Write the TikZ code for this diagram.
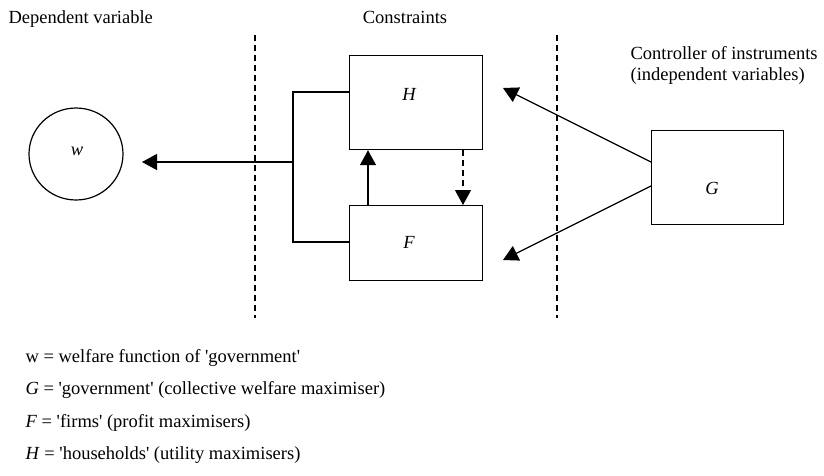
\documentclass[tikz,border=0pt]{standalone}
\usepackage{fontspec}
\setmainfont{Liberation Serif}[Ligatures=TeXOff]
\usetikzlibrary{arrows.meta,shapes.geometric}
\begin{document}
\begin{tikzpicture}[x=1pt,y=-1pt,
  line width=1.2pt,
  every node/.style={font=\fontsize{18.5}{22}\selectfont},
  box/.style={draw, minimum width=133pt, anchor=north west, inner sep=0pt},
  tip/.style={-{Triangle[length=15pt,width=16pt]}},
  divider/.style={dashed, dash pattern=on 6pt off 4pt},
  lbl/.style={anchor=base west, inner sep=0pt}]
\useasboundingbox (0,0) rectangle (824,475);

% boxes and the welfare circle
\node[box, minimum height=94pt] (H) at (349,55) {};
\node[box, minimum height=75pt] (F) at (349,205) {};
\node[box, minimum width=132pt, minimum height=94pt] (G) at (651,129.5) {};
\node[draw, ellipse, minimum width=94pt, minimum height=92pt, inner sep=0pt] (w) at (76,154) {};
\node at (409,94) {\itshape H};
\node at (409,242) {\itshape F};
\node at (712,188) {\itshape G};
\node at (77,151) {\itshape w};

% headings
\node[lbl] (dep) at (8,23) {Dependent variable};
\node[anchor=base] (con) at (405,23) {Constraints};
\node[lbl] (ctl1) at (630,59) {Controller of instruments};
\node[lbl] (ctl2) at (630,80) {(independent variables)};

% dividing lines
\coordinate (d1a) at (255,35);
\coordinate (d1b) at (255,318);
\coordinate (d2a) at (557,35);
\coordinate (d2b) at (557,318);
\draw[divider] (d1a) -- (d1b);
\draw[divider] (d2a) -- (d2b);

% bracket joining H and F, feeding w
\coordinate (bt) at (293,92);
\coordinate (bb) at (293,242);
\coordinate (bm) at (293,162);
\coordinate (wt) at (142,162);
\draw (H.west |- bt) -- (bt) -- (bb) -- (F.west |- bb);
\draw[tip] (bm) -- (wt);

% interactions between F and H
\coordinate (fu) at (368,0);
\coordinate (hd) at (463,0);
\draw[tip] (F.north -| fu) -- (H.south -| fu);
\draw[tip, divider] (H.south -| hd) -- (F.north -| hd);

% instruments from G
\coordinate (gs1) at (0,162);
\coordinate (gs2) at (0,186);
\coordinate (gh) at (503,88);
\coordinate (gf) at (503,260);
\draw[tip] (G.west |- gs1) -- (gh);
\draw[tip] (G.west |- gs2) -- (gf);

% legend
\node[lbl] (l1) at (25,362) {w = welfare function of 'government'};
\node[lbl] (l2) at (25,394.5) {\textit{G} = 'government' (collective welfare maximiser)};
\node[lbl] (l3) at (25,427) {\textit{F} = 'firms' (profit maximisers)};
\node[lbl] (l4) at (25,459) {\textit{H} = 'households' (utility maximisers)};
\end{tikzpicture}
\end{document}
